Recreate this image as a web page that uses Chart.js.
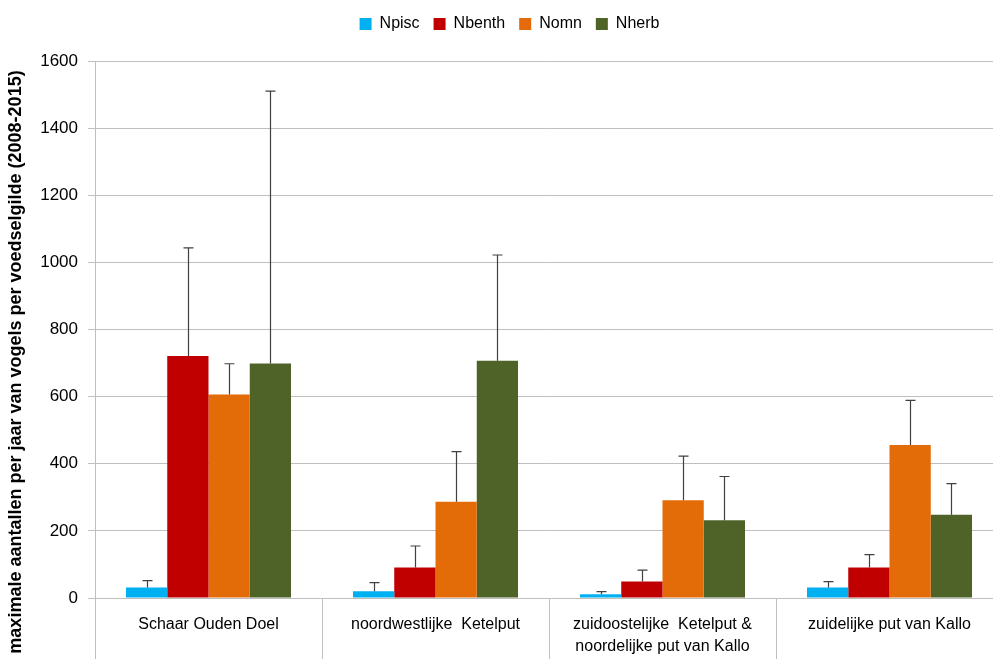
<!DOCTYPE html>
<html>
<head>
<meta charset="utf-8">
<script src="https://cdn.jsdelivr.net/npm/chart.js@4/dist/chart.umd.min.js"></script>
<style>
html,body{margin:0;padding:0;overflow:hidden;background:#fff;}
#wrap{width:1018px;height:659px;position:relative;}
</style>
</head>
<body>
<div id="wrap"><canvas id="c" width="1018" height="659"></canvas></div>
<script>
const categories = ['Schaar Ouden Doel', 'noordwestlijke  Ketelput', ['zuidoostelijke  Ketelput &', 'noordelijke put van Kallo'], 'zuidelijke put van Kallo'];
const seriesNames = ['Npisc', 'Nbenth', 'Nomn', 'Nherb'];
const npisc  = [31, 20, 11, 31];
const nbenth = [721, 91, 49, 91];
const nomn   = [606, 287, 291, 456];
const nherb  = [699, 707, 232, 248];
const npiscErr  = [21, 26, 8, 18];
const nbenthErr = [322, 64, 34, 38];
const nomnErr   = [92, 149, 132, 133];
const nherbErr  = [811, 315, 130, 93];
const yTicks = [0, 200, 400, 600, 800, 1000, 1200, 1400, 1600];
const yTitle = 'maximale aantallen per jaar van vogels per voedselgilde (2008-2015)';
const colors = ['#00b0f0', '#c00000', '#e36c09', '#4f6228'];

const values = [npisc, nbenth, nomn, nherb];
const errs = [npiscErr, nbenthErr, nomnErr, nherbErr];

const FONT = "'Liberation Sans', Arial, sans-serif";

const errorBars = {
  id: 'errorBars',
  afterDatasetsDraw(chart) {
    const ctx = chart.ctx;
    const ys = chart.scales.y;
    ctx.save();
    ctx.strokeStyle = '#404040';
    ctx.lineWidth = 1.2;
    chart.data.datasets.forEach((ds, i) => {
      const meta = chart.getDatasetMeta(i);
      meta.data.forEach((bar, j) => {
        const top = ys.getPixelForValue(ds.data[j] + ds.errors[j]);
        const x = Math.round(bar.x) + 0.5;
        ctx.beginPath();
        ctx.moveTo(x, bar.y);
        ctx.lineTo(x, top);
        ctx.moveTo(x - 5, top);
        ctx.lineTo(x + 5, top);
        ctx.stroke();
      });
    });
    ctx.restore();
  }
};

const legendGap = {
  id: 'legendGap',
  beforeInit(chart) {
    const fit = chart.legend.fit;
    chart.legend.fit = function () {
      fit.call(this);
      this.height += 19;
    };
  },
  afterLayout(chart) {
    chart.legend.left += 8;
    chart.legend.right += 8;
  }
};

const yAxisTitle = {
  id: 'yAxisTitle',
  afterDraw(chart) {
    const ctx = chart.ctx;
    ctx.save();
    ctx.translate(16, 362);
    ctx.rotate(-Math.PI / 2);
    ctx.font = "bold 18px " + FONT;
    ctx.fillStyle = '#000';
    ctx.textAlign = 'center';
    ctx.textBaseline = 'middle';
    ctx.fillText(yTitle, 0, 0);
    ctx.restore();
  }
};

new Chart(document.getElementById('c'), {
  type: 'bar',
  data: {
    labels: categories,
    datasets: seriesNames.map((n, i) => ({
      label: n,
      data: values[i],
      errors: errs[i],
      backgroundColor: colors[i],
      borderWidth: 0,
      categoryPercentage: 0.727,
      barPercentage: 1.0
    }))
  },
  options: {
    responsive: false,
    animation: false,
    layout: { padding: { top: 2, right: 15, left: 0, bottom: 0 } },
    plugins: {
      legend: {
        position: 'top',
        labels: {
          font: { family: FONT, size: 16 },
          color: '#000',
          boxWidth: 12,
          boxHeight: 12,
          padding: 14
        }
      },
      tooltip: { enabled: false }
    },
    scales: {
      x: {
        grid: { offset: true, drawOnChartArea: false, tickLength: 62, color: '#bfbfbf', lineWidth: 1 },
        border: { color: '#bfbfbf' },
        ticks: { font: { family: FONT, size: 16, lineHeight: 1.4 }, color: '#000', padding: -47, maxRotation: 0, autoSkip: false },
        afterFit(s) { s.height = 61; }
      },
      y: {
        min: 0, max: 1600,
        afterBuildTicks(s) { s.ticks = yTicks.map(v => ({ value: v })); },
        grid: { color: '#bfbfbf', tickLength: 7, lineWidth: 1 },
        border: { color: '#bfbfbf' },
        ticks: { font: { family: FONT, size: 17 }, color: '#000', padding: 10, callback: (v) => String(v) },
        title: { display: false, text: yTitle },
        afterFit(s) { s.width = 95; }
      }
    }
  },
  plugins: [errorBars, legendGap, yAxisTitle]
});
</script>
</body>
</html>
